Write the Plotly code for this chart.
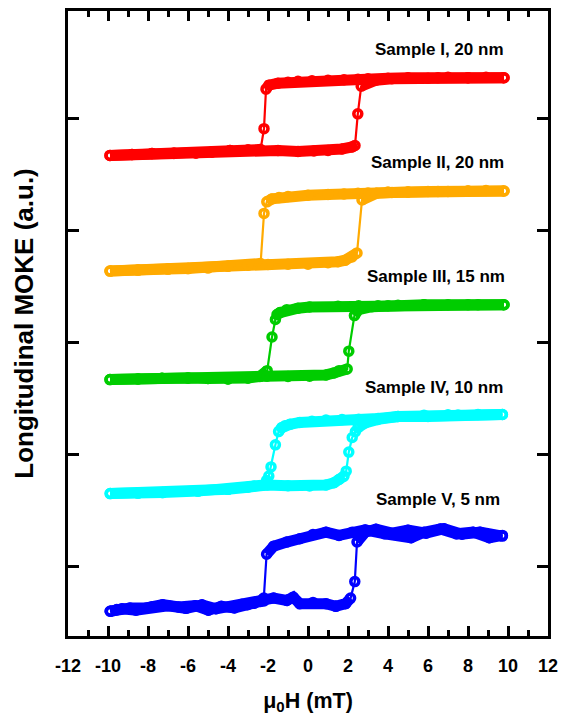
import plotly.graph_objects as go

FONT = "Arial, 'Liberation Sans', Helvetica, sans-serif"

# Longitudinal MOKE hysteresis loops; field in mT, signal in a.u. (loops offset vertically)
# Sample I, 20 nm
s1_down_h = [9.8, 8.9, 8.0, 7.0, 6.0, 5.0, 4.0, 3.0, 2.5, 1.8, 1.0, 0.2, -0.5, -1.0, -1.5, -1.95, -2.1,
             -2.2, -2.37, -3.0, -3.9, -4.8, -5.6, -6.7, -7.8, -8.8, -9.9]
s1_down_m = [56.45, 56.5, 56.45, 56.5, 56.4, 56.45, 56.4, 56.35, 56.3, 56.25, 56.2, 56.15, 56.1, 56.0, 55.9, 55.7, 55.3,
             51.3, 49.2, 49.15, 49.1, 48.95, 48.85, 48.85, 48.8, 48.7, 48.6]
s1_up_h = [-9.9, -8.8, -7.8, -6.7, -5.6, -4.8, -3.9, -3.0, -2.4, -1.5, -0.5, 0.3, 1.0, 1.7, 2.2, 2.35,
           2.49, 2.66, 3.4, 4.2, 5.0, 6.5, 8.0, 9.8]
s1_up_m = [48.6, 48.7, 48.8, 48.8, 48.85, 48.95, 49.1, 49.15, 49.2, 49.1, 49.0, 49.05, 49.1, 49.25, 49.45, 49.6,
           52.8, 55.6, 56.2, 56.35, 56.4, 56.45, 56.45, 56.45]

# Sample II, 20 nm
s2_down_h = [9.8, 8.9, 8.0, 7.0, 6.0, 5.0, 4.0, 3.0, 2.5, 1.8, 1.0, 0.0, -1.0, -1.45, -1.8, -2.06,
             -2.2, -2.37, -3.0, -4.0, -5.0, -6.0, -7.0, -8.5, -9.9]
s2_down_m = [45.0, 45.05, 45.0, 44.95, 44.95, 44.9, 44.9, 44.8, 44.77, 44.7, 44.65, 44.57, 44.45, 44.33, 44.2, 43.9,
             42.73, 37.67, 37.55, 37.4, 37.23, 37.15, 37.1, 37.0, 36.9]
s2_up_h = [-9.9, -8.5, -7.0, -6.0, -5.0, -4.0, -3.0, -2.0, -1.0, 0.0, 1.0, 1.5, 1.86, 2.2, 2.45,
           2.7, 3.43, 4.2, 5.0, 6.5, 8.0, 9.8]
s2_up_m = [36.9, 37.0, 37.1, 37.15, 37.23, 37.4, 37.5, 37.57, 37.6, 37.6, 37.75, 37.85, 38.0, 38.33, 38.73,
           44.1, 44.77, 44.85, 44.9, 44.95, 45.0, 45.0]

# Sample III, 15 nm
s3_down_h = [9.8, 8.5, 7.0, 5.8, 4.5, 3.5, 2.53, 1.5, 0.08, -0.5, -1.06, -1.4, -1.55, -1.63, -1.8, -2.04,
             -2.4, -3.0, -4.0, -5.0, -6.0, -7.3, -8.5, -9.9]
s3_down_m = [33.5, 33.5, 33.5, 33.5, 33.45, 33.4, 33.4, 33.35, 33.27, 33.15, 33.0, 32.7, 32.5, 32.0, 30.23, 26.83,
             26.25, 26.1, 26.0, 26.05, 26.1, 26.07, 26.0, 25.93]
s3_up_h = [-9.9, -8.5, -7.3, -6.0, -5.0, -4.0, -3.0, -2.05, -1.0, 0.08, 0.9, 1.3, 1.55, 1.96, 2.04, 2.32,
           2.53, 3.2, 4.0, 5.8, 8.0, 9.8]
s3_up_m = [25.93, 26.0, 26.07, 26.1, 26.05, 26.0, 26.1, 26.27, 26.25, 26.27, 26.4, 26.6, 26.83, 27.0, 28.8, 32.4,
           33.0, 33.3, 33.4, 33.5, 33.5, 33.5]

# Sample IV, 10 nm
s4_down_h = [9.72, 8.5, 7.0, 5.8, 4.5, 3.5, 2.53, 1.7, 0.9, 0.2, -0.41, -0.9, -1.15, -1.31, -1.47, -1.63,
             -1.85, -1.96, -2.07, -2.2, -2.7, -4.0, -5.5, -7.27, -8.5, -9.89]
s4_down_m = [22.4, 22.4, 22.37, 22.33, 22.2, 22.0, 21.93, 21.88, 21.83, 21.72, 21.6, 21.4, 21.25, 21.07, 20.67, 19.33,
             17.1, 16.17, 15.73, 15.27, 15.17, 14.83, 14.65, 14.5, 14.45, 14.4]
s4_up_h = [-9.89, -8.5, -7.27, -5.5, -4.0, -3.0, -2.04, -1.0, 0.08, 0.9, 1.3, 1.55, 1.8, 1.91, 2.04, 2.21,
           2.37, 2.5, 2.86, 3.5, 4.5, 6.0, 7.5, 9.72]
s4_up_m = [14.4, 14.45, 14.5, 14.65, 14.83, 15.05, 15.27, 15.2, 15.17, 15.27, 15.5, 15.83, 16.17, 16.67, 18.6, 20.07,
           20.67, 21.07, 21.55, 21.9, 22.2, 22.2, 22.35, 22.4]

# Sample V, 5 nm
s5_down_h = [9.72, 9.07, 8.25, 7.43, 6.62, 5.8, 5.15, 4.49, 3.84, 2.86, 2.21, 1.55, 0.9, 0.25, -0.41, -1.06,
             -1.72, -2.07, -2.21, -2.37, -3.02, -3.68, -4.33, -4.98, -5.64, -6.46, -7.27, -8.09, -8.9, -9.56,
             -9.89]
s5_down_m = [10.17, 9.93, 10.5, 10.33, 10.83, 10.5, 9.93, 10.27, 10.33, 10.73, 10.5, 10.17, 10.5, 10.27, 9.83, 9.5,
             9.07, 8.27, 3.83, 3.5, 3.17, 2.83, 3.0, 2.6, 3.07, 2.93, 3.17, 2.83, 2.83, 2.67,
             2.5]
s5_up_h = [-9.89, -9.3, -8.6, -7.8, -7.0, -6.1, -5.3, -4.6, -3.9, -3.3, -2.7, -2.2, -1.72, -1.06, -0.74, -0.41,
           0.25, 0.9, 1.39, 1.88, 2.13, 2.34, 2.45, 2.86, 3.4, 4.2, 5.0, 5.9, 6.8, 7.7, 8.6, 9.72]
s5_up_m = [2.5, 2.75, 2.6, 2.95, 3.05, 2.8, 3.15, 2.75, 2.95, 3.2, 3.3, 3.55, 3.83, 3.6, 3.93, 3.27,
           3.4, 3.27, 3.0, 3.27, 3.83, 5.5, 9.5, 10.5, 10.8, 10.4, 10.7, 10.4, 10.85, 10.3, 10.5, 10.1]

sample_labels = ["Sample I, 20 nm", "Sample II, 20 nm", "Sample III, 15 nm",
                 "Sample IV, 10 nm", "Sample V, 5 nm"]
branches = [
    (s1_down_h, s1_down_m, s1_up_h, s1_up_m),
    (s2_down_h, s2_down_m, s2_up_h, s2_up_m),
    (s3_down_h, s3_down_m, s3_up_h, s3_up_m),
    (s4_down_h, s4_down_m, s4_up_h, s4_up_m),
    (s5_down_h, s5_down_m, s5_up_h, s5_up_m),
]
colors = ["#ff0000", "#ffaa00", "#00cc00", "#00ffff", "#0000ff"]

x_ticks = list(range(-12, 13, 2))
x_ticktext = [str(v) for v in x_ticks]          # plain hyphen minus signs


def plateau_path(h, m, max_slope=3.0):
    """Break the path wherever the signal switches abruptly, so that only
    the saturated/slowly varying parts get the wide stroke."""
    xs, ys = [h[0]], [m[0]]
    for i in range(1, len(h)):
        dh = abs(h[i] - h[i - 1]) or 1e-9
        if abs(m[i] - m[i - 1]) / dh > max_slope:
            xs.append(None)
            ys.append(None)
        xs.append(h[i])
        ys.append(m[i])
    return xs, ys


fig = go.Figure()
for (dh, dm, uh, um), col in zip(branches, colors):
    for h, m in ((dh, dm), (uh, um)):
        px, py = plateau_path(h, m)
        fig.add_trace(go.Scatter(x=px, y=py, mode="lines", connectgaps=False,
                                 line=dict(color=col, width=11), hoverinfo="skip",
                                 showlegend=False))
        fig.add_trace(go.Scatter(x=h, y=m, mode="lines+markers",
                                 line=dict(color=col, width=2.2),
                                 marker=dict(symbol="circle-open", size=8, color=col,
                                             line=dict(color=col, width=3.5)),
                                 showlegend=False))

# sample captions, right aligned above each loop
label_y = [59.3, 47.9, 36.4, 25.1, 13.8]
label_x = [9.9, 9.9, 9.95, 9.85, 9.7]
for txt, lx, ly in zip(sample_labels, label_x, label_y):
    fig.add_annotation(x=lx, y=ly, text=txt, showarrow=False, xanchor="right",
                       yanchor="middle", font=dict(family=FONT, size=17, color="black", weight="bold"))

axis_common = dict(showline=True, linecolor="black", linewidth=2.5, mirror="ticks",
                   ticks="inside", tickcolor="black", tickwidth=2.5, showgrid=False,
                   zeroline=False)

fig.update_xaxes(range=[-12, 12], tickvals=x_ticks, ticktext=x_ticktext, ticklen=10,
                 minor=dict(ticks="inside", dtick=1, tick0=0, ticklen=6, tickwidth=2.5,
                            tickcolor="black", showgrid=False),
                 tickfont=dict(family=FONT, size=18, color="black", weight="bold"),
                 ticklabelstandoff=12, ticklabeloverflow="allow",
                 title=dict(text="μ<sub>0</sub>H (mT)", standoff=18,
                            font=dict(family=FONT, size=21.5, color="black", weight="bold")),
                 **axis_common)
fig.update_yaxes(range=[0, 63.2], tick0=7, dtick=11.33, ticklen=11, showticklabels=False,
                 title=dict(text="Longitudinal MOKE (a.u.)", standoff=25,
                            font=dict(family=FONT, size=26, color="black", weight="bold")),
                 **axis_common)

fig.update_layout(width=566, height=717, margin=dict(l=68, r=11, t=8, b=76),
                  paper_bgcolor="white", plot_bgcolor="white", showlegend=False)

fig.write_html("out.html")
